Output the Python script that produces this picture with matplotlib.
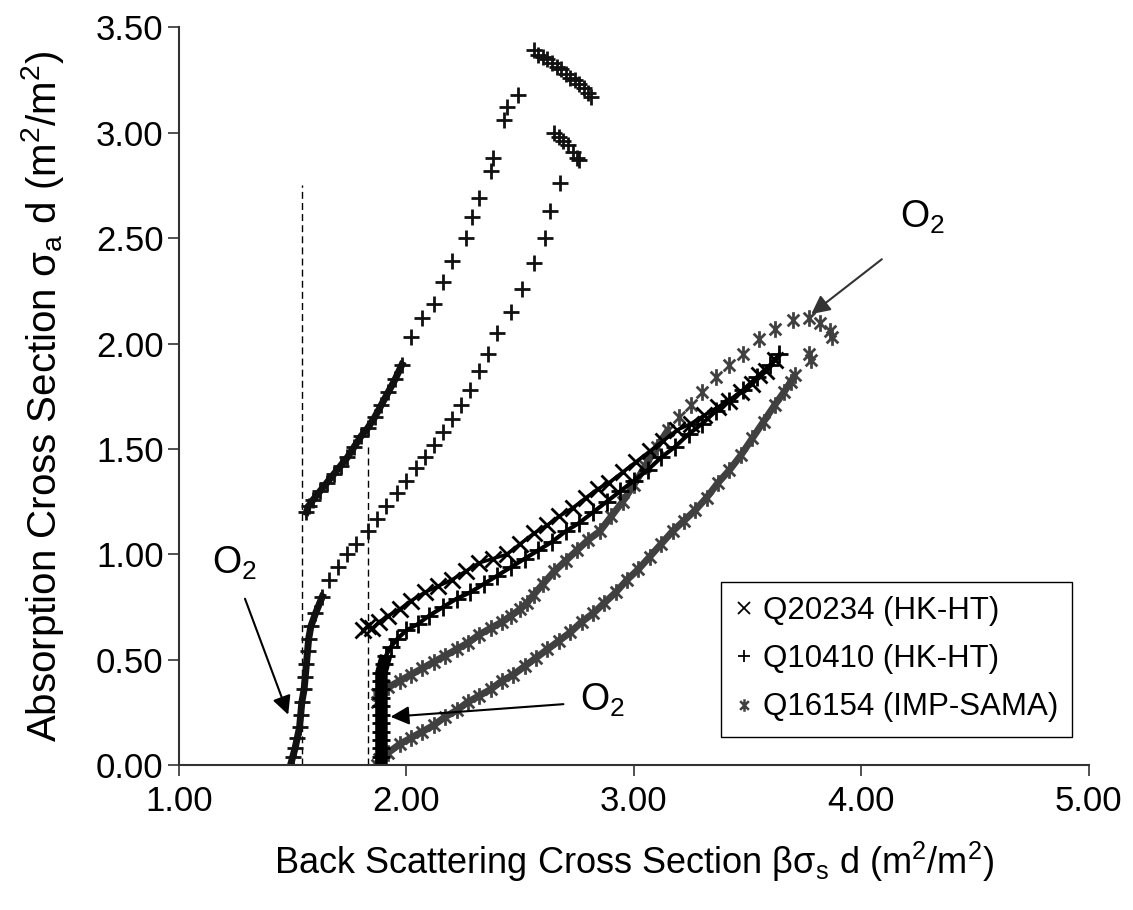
import numpy as np
import matplotlib.pyplot as plt
from matplotlib.path import Path

plt.rcParams.update({
    "font.family": ["Liberation Sans", "DejaVu Sans"],
    "font.size": 24,
    "mathtext.fontset": "custom",
    "mathtext.rm": "Liberation Sans",
    "mathtext.it": "Liberation Sans:italic",
})

# Q20234 (HK-HT), x markers
q20234_x = [1.81, 1.83, 1.85, 1.88, 1.92, 1.97, 2.02, 2.08, 2.14, 2.20, 2.26, 2.32, 2.38, 2.44,
            2.50, 2.56, 2.62, 2.67, 2.73, 2.79, 2.84, 2.89, 2.95, 3.01, 3.07, 3.13, 3.19, 3.25,
            3.31, 3.37, 3.42, 3.47, 3.52, 3.55, 3.58, 3.62]
q20234_y = [0.64, 0.66, 0.65, 0.68, 0.71, 0.74, 0.78, 0.82, 0.85, 0.88, 0.92, 0.96, 0.98, 1.00,
            1.05, 1.10, 1.14, 1.18, 1.22, 1.27, 1.31, 1.34, 1.39, 1.44, 1.49, 1.54, 1.59, 1.62,
            1.66, 1.70, 1.73, 1.77, 1.81, 1.85, 1.87, 1.92]

# Q10410 (HK-HT), + markers: lower-right curve
q10410_x = [1.89, 1.89, 1.89, 1.89, 1.89, 1.89, 1.89, 1.89, 1.89, 1.89, 1.89, 1.89, 1.90, 1.91,
            1.93, 1.96, 2.00, 2.05, 2.10, 2.16, 2.22, 2.28, 2.34, 2.40, 2.46, 2.52, 2.58, 2.64,
            2.70, 2.76, 2.82, 2.88, 2.94, 3.00, 3.06, 3.12, 3.18, 3.24, 3.30, 3.36, 3.42, 3.48,
            3.54, 3.60, 3.64]
q10410_y = [0.00, 0.04, 0.08, 0.12, 0.16, 0.20, 0.24, 0.28, 0.32, 0.36, 0.40, 0.44, 0.48, 0.52,
            0.56, 0.60, 0.64, 0.67, 0.71, 0.75, 0.79, 0.82, 0.86, 0.90, 0.94, 0.98, 1.02, 1.06,
            1.11, 1.15, 1.20, 1.25, 1.30, 1.35, 1.40, 1.46, 1.51, 1.57, 1.62, 1.68, 1.73, 1.78,
            1.84, 1.90, 1.95]

# + markers: left curve starting at 1.50
left_low_x = [1.49, 1.50, 1.51, 1.52, 1.53, 1.535, 1.54, 1.55, 1.555, 1.56, 1.565, 1.57, 1.58,
              1.60, 1.63, 1.66, 1.70, 1.74, 1.78, 1.83, 1.87, 1.91, 1.96, 2.00, 2.04, 2.08, 2.12,
              2.16, 2.20, 2.24, 2.28, 2.32, 2.36, 2.40, 2.46, 2.51, 2.56, 2.61, 2.63, 2.675,
              2.65, 2.67, 2.69, 2.71, 2.73, 2.75, 2.76]
left_low_y = [0.00, 0.04, 0.08, 0.13, 0.18, 0.24, 0.30, 0.36, 0.42, 0.48, 0.54, 0.60, 0.66,
              0.72, 0.80, 0.88, 0.94, 1.00, 1.05, 1.11, 1.17, 1.23, 1.29, 1.35, 1.41, 1.46, 1.52,
              1.58, 1.64, 1.71, 1.78, 1.87, 1.95, 2.05, 2.15, 2.26, 2.38, 2.50, 2.63, 2.76,
              3.00, 2.98, 2.96, 2.94, 2.91, 2.88, 2.87]

# + markers: upper-left curve starting at 1.56
left_up_x = [1.56, 1.57, 1.59, 1.62, 1.65, 1.68, 1.71, 1.74, 1.77, 1.80, 1.83, 1.86, 1.89, 1.92,
             1.95, 1.98, 2.02, 2.07, 2.12, 2.16, 2.20, 2.26, 2.29, 2.32, 2.37, 2.38, 2.43, 2.44,
             2.49, 2.56, 2.58, 2.60, 2.62, 2.64, 2.66, 2.68, 2.70, 2.72, 2.74, 2.76, 2.78, 2.80,
             2.81]
left_up_y = [1.20, 1.23, 1.26, 1.30, 1.34, 1.38, 1.42, 1.46, 1.51, 1.56, 1.60, 1.65, 1.71, 1.77,
             1.83, 1.90, 2.03, 2.12, 2.19, 2.29, 2.39, 2.50, 2.60, 2.69, 2.82, 2.88, 3.06, 3.12,
             3.18, 3.39, 3.37, 3.36, 3.35, 3.33, 3.31, 3.30, 3.28, 3.26, 3.25, 3.23, 3.21, 3.19,
             3.17]

# Q16154 (IMP-SAMA), asterisk markers: upper and lower curves
q16154_up_x = [1.87, 1.87, 1.92, 1.97, 2.02, 2.07, 2.12, 2.17, 2.22, 2.27, 2.32, 2.37, 2.42, 2.46,
               2.50, 2.53, 2.56, 2.60, 2.65, 2.70, 2.75, 2.80, 2.85, 2.90, 2.95, 3.00, 3.05, 3.10,
               3.15, 3.20, 3.25, 3.30, 3.36, 3.42, 3.48, 3.55, 3.62, 3.70, 3.77, 3.82, 3.86, 3.87]
q16154_up_y = [0.30, 0.34, 0.37, 0.40, 0.43, 0.46, 0.49, 0.52, 0.55, 0.58, 0.62, 0.65, 0.68, 0.71,
               0.74, 0.77, 0.81, 0.86, 0.92, 0.97, 1.02, 1.07, 1.11, 1.18, 1.25, 1.33, 1.42, 1.51,
               1.59, 1.65, 1.71, 1.77, 1.84, 1.90, 1.95, 2.02, 2.07, 2.11, 2.12, 2.10, 2.06, 2.03]
q16154_lo_x = [1.87, 1.88, 1.92, 1.97, 2.02, 2.07, 2.12, 2.17, 2.22, 2.27, 2.32, 2.37, 2.42, 2.47,
               2.52, 2.57, 2.62, 2.67, 2.72, 2.77, 2.82, 2.87, 2.92, 2.97, 3.02, 3.07, 3.12, 3.17,
               3.22, 3.27, 3.32, 3.37, 3.42, 3.47, 3.52, 3.57, 3.62, 3.66, 3.69, 3.71, 3.77, 3.78]
q16154_lo_y = [0.00, 0.03, 0.06, 0.10, 0.13, 0.16, 0.19, 0.23, 0.26, 0.30, 0.33, 0.36, 0.40, 0.43,
               0.47, 0.51, 0.55, 0.59, 0.63, 0.68, 0.72, 0.77, 0.82, 0.88, 0.93, 0.99, 1.05, 1.11,
               1.16, 1.21, 1.27, 1.34, 1.40, 1.47, 1.55, 1.63, 1.71, 1.77, 1.82, 1.85, 1.95, 1.92]

# dashed reference lines: x position and top
dash_x = [1.54, 1.83]
dash_top = [2.75, 1.52]

# asterisk marker (x with a vertical bar)
star = Path([(0, -1), (0, 1), (-0.7, -0.7), (0.7, 0.7), (-0.7, 0.7), (0.7, -0.7)],
            [Path.MOVETO, Path.LINETO] * 3)

gray = "#404040"

fig = plt.figure(figsize=(11.33, 9.10), dpi=100)
ax = fig.add_axes([0.158, 0.159, 0.803, 0.811])

for xd, top in zip(dash_x, dash_top):
    ax.plot([xd, xd], [0, top], color="k", lw=1, ls=(0, (5, 3)))

# densely sampled stretches show as solid bands in the original
ax.plot(q16154_lo_x[:-2], q16154_lo_y[:-2], ls="-", lw=5, color=gray, solid_capstyle="butt")
ax.plot(q16154_up_x[:29], q16154_up_y[:29], ls="-", lw=5, color=gray, solid_capstyle="butt")
ax.plot(q16154_lo_x, q16154_lo_y, ls="none", marker=star, ms=12, mew=2, color=gray)
ax.plot(q16154_up_x, q16154_up_y, ls="none", marker=star, ms=12, mew=2, color=gray)

ax.plot(left_low_x[:15], left_low_y[:15], ls="-", lw=5, color="#111111")
ax.plot(left_up_x[:16], left_up_y[:16], ls="-", lw=5, color="#111111")
ax.plot(left_low_x, left_low_y, ls="none", marker="+", ms=12, mew=2, color="#111111")
ax.plot(left_up_x, left_up_y, ls="none", marker="+", ms=12, mew=2, color="#111111")

ax.plot(q10410_x[:14], q10410_y[:14], ls="-", lw=9, color="k", solid_capstyle="butt")
ax.plot(q10410_x, q10410_y, ls="-", lw=3, marker="+", ms=13, mew=2, color="k")
ax.plot(q20234_x, q20234_y, ls="-", lw=2.5, marker="x", ms=11, mew=2, color="k")

# legend handles
h1, = ax.plot([], [], ls="none", marker="x", ms=8, mew=1.3, color="k", label="Q20234 (HK-HT)")
h2, = ax.plot([], [], ls="none", marker="+", ms=9, mew=1.3, color="k", label="Q10410 (HK-HT)")
h3, = ax.plot([], [], ls="none", marker=star, ms=9, mew=1.8, color=gray, label="Q16154 (IMP-SAMA)")
leg = ax.legend(handles=[h1, h2, h3], loc="lower right", bbox_to_anchor=(0.982, 0.039),
                fontsize=22.5, frameon=True, fancybox=False, edgecolor="k", framealpha=1,
                handlelength=0.6, handletextpad=0.3, borderpad=0.45, labelspacing=0.58,
                borderaxespad=0)
leg.get_frame().set_linewidth(1)

# O2 annotations
arrow = dict(arrowstyle="-|>", color="k", lw=1.5, mutation_scale=28, shrinkA=0, shrinkB=0)
ax.annotate("", xy=(1.48, 0.24), xytext=(1.29, 0.79), arrowprops=arrow)
ax.text(1.245, 0.96, "O$_2$", ha="center", va="center", fontsize=27)
ax.annotate("", xy=(1.93, 0.23), xytext=(2.69, 0.29), arrowprops=arrow)
ax.text(2.86, 0.31, "O$_2$", ha="center", va="center", fontsize=27)
ax.annotate("", xy=(3.78, 2.14), xytext=(4.09, 2.40), arrowprops=dict(arrow, color="#333333"))
ax.text(4.27, 2.60, "O$_2$", ha="center", va="center", fontsize=27)

ax.set_xlim(1, 5)
ax.set_ylim(0, 3.5)
ax.set_xticks(np.arange(1, 5.01, 1))
ax.set_yticks(np.arange(0, 3.51, 0.5))
ax.set_xticklabels([f"{v:.2f}" for v in np.arange(1, 5.01, 1)])
ax.set_yticklabels([f"{v:.2f}" for v in np.arange(0, 3.51, 0.5)])
ax.tick_params(direction="out", length=8, width=1.2, labelsize=25, color="#333333")
ax.tick_params(axis="y", pad=3)
ax.tick_params(axis="x", pad=6)

for s in ["top", "right"]:
    ax.spines[s].set_visible(False)
for s in ["left", "bottom"]:
    ax.spines[s].set_linewidth(1.5)
    ax.spines[s].set_color("#333333")

ax.set_xlabel(r"Back Scattering Cross Section βσ$_\mathrm{s}$ d (m$^2$/m$^2$)", fontsize=26, labelpad=16)
ax.set_ylabel(r"Absorption Cross Section σ$_\mathrm{a}$ d (m$^2$/m$^2$)", fontsize=29, labelpad=22)

fig.savefig("out.png", dpi=100)
